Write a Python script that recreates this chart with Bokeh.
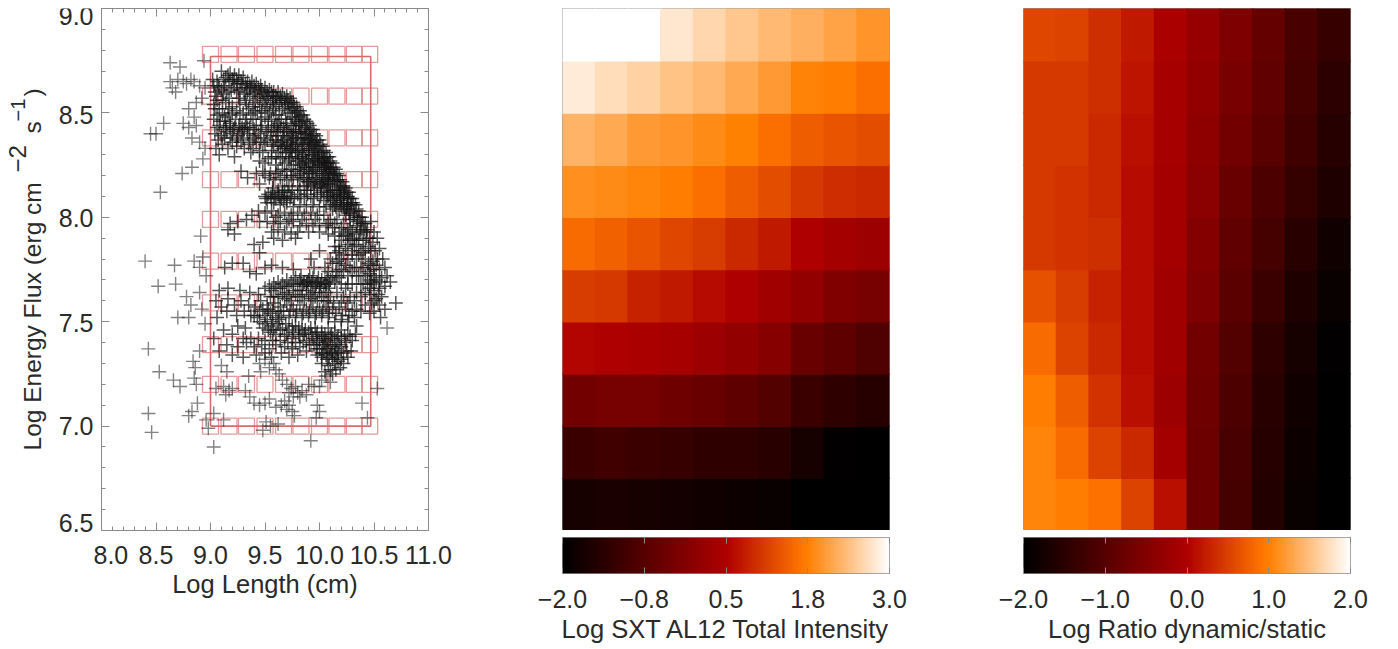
from bokeh.plotting import figure
from bokeh.layouts import row, column
from bokeh.embed import file_html
from bokeh.resources import INLINE
from bokeh.models import (ColumnDataSource, LinearColorMapper, LinearAxis, Label, FixedTicker,
                          Range1d)
import numpy as np

grid_x = [9.0, 9.17, 9.33, 9.5, 9.67, 9.83, 10.0, 10.16, 10.32, 10.46]
grid_y = [7.0, 7.2, 7.39, 7.59, 7.79, 7.99, 8.18, 8.38, 8.58, 8.78]
frame_x = [9.0, 9.0, 10.47, 10.47, 9.0]
frame_y = [7.0, 8.77, 8.77, 7.0, 7.0]

left_sparse = [(8.63,8.74),(8.72,8.72),(8.94,8.75),(8.65,8.62),(8.68,8.6),(8.63,8.65),(8.7,8.66),(8.75,8.65),
 (8.78,8.64),(8.82,8.66),(8.85,8.65),(8.9,8.63),(8.95,8.62),(8.8,8.52),(8.87,8.55),(8.92,8.57),(8.85,8.48),
 (8.45,8.40),(8.5,8.40),(8.57,8.45),(8.75,8.45),(8.8,8.43),(8.87,8.44),(8.83,8.38),(8.9,8.36),(8.95,8.33),
 (8.93,8.28),(8.74,8.21),(8.83,8.24),(8.54,8.12),(8.4,7.79),(8.52,7.67),(8.67,7.77),(8.68,7.68),(8.91,7.91),
 (8.85,7.79),(8.9,7.76),(8.93,7.81),(8.96,7.72),(8.9,7.64),(8.78,7.62),(8.43,7.37),(8.53,7.26),(8.66,7.22),
 (8.72,7.19),(8.43,7.06),(8.46,6.97),(8.8,7.05),(8.83,7.07),(8.88,7.11),(8.84,7.31),(8.86,7.28),(8.85,7.23),
 (8.87,7.2),(9.03,6.9),(9.92,6.93),(10.53,7.18),(10.39,7.11),(10.62,7.47),(8.7,7.52),(8.8,7.52),(8.82,7.58),
 (8.92,7.56),(8.95,7.49),(8.9,7.36),(8.96,7.03),(8.98,6.99),(9.48,6.98),(9.55,7.0),(9.51,7.02),(9.62,7.01),
 (9.12,7.03),(9.03,7.06),(10.44,7.04)]

arc_outer = [(9.02,8.66),(9.06,8.65),(9.1,8.7),(9.14,8.67),(9.18,8.69),(9.22,8.68),(9.26,8.68),(9.3,8.67),(9.34,8.65),
 (9.38,8.65),(9.42,8.64),(9.46,8.63),(9.5,8.62),(9.54,8.61),(9.58,8.6),(9.62,8.6),(9.66,8.59),(9.7,8.58),
 (9.73,8.57),(9.76,8.55),(9.79,8.53),(9.82,8.51),(9.85,8.49),(9.88,8.46),(9.91,8.44),(9.94,8.42),(9.97,8.39),
 (10.0,8.37),(10.03,8.34),(10.06,8.31),(10.09,8.29),(10.12,8.26),(10.15,8.23),(10.18,8.2),(10.21,8.17),
 (10.24,8.14),(10.27,8.12),(10.3,8.09),(10.33,8.06),(10.36,8.03),(10.39,8.0),(10.42,7.97),(10.44,7.94),
 (10.46,7.9)]
arc_mid = [(9.08,8.62),(9.13,8.63),(9.17,8.65),(9.21,8.65),(9.25,8.64),(9.29,8.64),(9.33,8.62),(9.37,8.62),(9.41,8.61),
 (9.45,8.6),(9.49,8.59),(9.53,8.58),(9.57,8.58),(9.61,8.57),(9.65,8.56),(9.69,8.55),(9.72,8.54),(9.75,8.52),
 (9.78,8.5),(9.81,8.48),(9.84,8.46),(9.87,8.43),(9.9,8.41),(9.93,8.39),(9.96,8.36),(9.99,8.34),(10.02,8.31),
 (10.05,8.28),(10.08,8.26),(10.11,8.23),(10.14,8.2),(10.17,8.17),(10.2,8.14),(10.23,8.11),(10.26,8.09),
 (10.29,8.06),(10.32,8.03),(10.35,8.0),(10.38,7.97),(10.41,7.94),(10.43,7.9),(10.45,7.86)]
arc_inner = [(9.05,8.58),(9.12,8.59),(9.19,8.61),(9.24,8.6),(9.31,8.59),(9.36,8.58),(9.43,8.57),(9.48,8.56),(9.55,8.55),
 (9.6,8.54),(9.66,8.52),(9.71,8.51),(9.75,8.48),(9.79,8.46),(9.82,8.44),(9.86,8.4),(9.89,8.37),(9.93,8.35),
 (9.96,8.32),(9.99,8.29),(10.03,8.27),(10.06,8.24),(10.09,8.21),(10.12,8.17),(10.16,8.13),(10.19,8.1),
 (10.22,8.07),(10.25,8.05),(10.28,8.02),(10.31,7.99),(10.34,7.96),(10.37,7.93),(10.4,7.89),(10.42,7.85)]
arc_extra = [(9.12,8.66),(9.16,8.68),(9.2,8.66),(9.24,8.66),(9.28,8.65),(9.32,8.64),(9.36,8.63),(9.4,8.63),(9.44,8.62),
 (9.47,8.61),(9.52,8.6),(9.56,8.6),(9.6,8.58),(9.64,8.58),(9.68,8.57),(9.71,8.56),(9.74,8.55),(9.77,8.53),(9.8,8.51),
 (9.83,8.49),(9.86,8.47),(9.89,8.45),(9.92,8.42),(9.95,8.4),(9.98,8.37),(10.01,8.35),(10.04,8.32),(10.07,8.29),
 (10.1,8.27),(10.13,8.24),(10.16,8.21),(10.19,8.18),(10.22,8.15),(10.25,8.12),(10.28,8.09),(10.31,8.07),(10.34,8.04),
 (10.37,8.0),(10.4,7.97),(10.43,7.93),(9.77,8.47),(9.81,8.45),(9.84,8.42),(9.88,8.4),(9.91,8.38),(9.94,8.36),
 (9.97,8.34),(10.0,8.31),(10.04,8.29),(10.07,8.26),(10.1,8.24),(10.13,8.21),(10.16,8.18),(10.19,8.15),(10.23,8.13),
 (10.26,8.1),(10.29,8.07),(10.32,8.01),(10.35,7.98),(10.38,7.94),(9.78,8.44),(9.83,8.41),(9.87,8.38),(9.92,8.36),
 (9.95,8.33),(9.98,8.31),(10.02,8.28),(10.05,8.25),(10.08,8.22),(10.12,8.19),(9.07,8.63),(9.04,8.6),(9.03,8.63),
 (9.1,8.61),(9.15,8.6),(9.22,8.62),(9.27,8.61),(9.34,8.6),(9.39,8.59),(9.46,8.58),(9.51,8.57),(9.58,8.56),(9.63,8.55),
 (9.68,8.53),(9.73,8.5),(9.06,8.56),(9.11,8.56),(9.17,8.57),(9.26,8.57),(9.32,8.56),(9.41,8.55),(9.5,8.54),(9.57,8.53)]
band_top = [(9.03,8.54),(9.08,8.52),(9.14,8.55),(9.2,8.53),(9.27,8.55),(9.33,8.54),(9.39,8.53),(9.45,8.53),(9.52,8.52),
 (9.58,8.51),(9.63,8.49),(9.69,8.47),(9.74,8.44),(9.03,8.47),(9.09,8.46),(9.16,8.49),(9.23,8.47),(9.3,8.5),
 (9.37,8.49),(9.43,8.5),(9.5,8.48),(9.56,8.47),(9.62,8.45),(9.67,8.43),(9.72,8.41),(9.78,8.41),(9.83,8.38),
 (9.06,8.43),(9.12,8.42),(9.18,8.45),(9.22,8.43),(9.27,8.42),(9.32,8.45),(9.36,8.43),(9.42,8.44),(9.47,8.44),
 (9.53,8.43),(9.58,8.42),(9.62,8.41),(9.66,8.39),(9.7,8.38),(9.75,8.37),(9.8,8.36),(9.86,8.34),(9.9,8.32),
 (9.04,8.4),(9.1,8.39),(9.15,8.41),(9.2,8.4),(9.25,8.39),(9.29,8.41),(9.34,8.4),(9.39,8.39),(9.44,8.4),(9.49,8.38),
 (9.55,8.39),(9.6,8.37),(9.65,8.36),(9.71,8.35),(9.76,8.34),(9.82,8.33),(9.88,8.31),(9.93,8.3),(9.96,8.27),
 (9.35,8.35),(9.2,8.36),(9.11,8.35),(9.05,8.33),(9.28,8.36),(9.42,8.36),(9.5,8.35),(9.58,8.34),(9.66,8.33),
 (9.73,8.32),(9.8,8.31),(9.85,8.3),(9.08,8.3),(9.22,8.29),(9.37,8.31),(9.45,8.32),(9.18,8.44),(9.14,8.46),(9.26,8.44),
 (9.31,8.42),(9.61,8.44),(9.68,8.41),(9.74,8.39),(9.79,8.38),(9.64,8.34),(9.7,8.33),(9.75,8.31),(9.81,8.29),(9.87,8.28)]
fill_top = [(9.04,8.52),(9.11,8.5),(9.17,8.52),(9.24,8.51),(9.35,8.52),(9.41,8.51),(9.47,8.51),(9.54,8.5),(9.6,8.49),
 (9.65,8.47),(9.7,8.45),(9.76,8.42),(9.81,8.41),(9.06,8.49),(9.13,8.48),(9.2,8.5),(9.27,8.49),(9.33,8.47),(9.39,8.47),
 (9.46,8.47),(9.53,8.46),(9.59,8.44),(9.64,8.43),(9.7,8.42),(9.76,8.4),(9.85,8.37),(9.08,8.44),(9.14,8.43),(9.21,8.42),
 (9.29,8.43),(9.34,8.43),(9.4,8.42),(9.46,8.42),(9.51,8.41),(9.56,8.41),(9.61,8.39),(9.67,8.37),(9.73,8.36),(9.78,8.35),
 (9.84,8.35),(9.9,8.35),(9.07,8.37),(9.13,8.38),(9.18,8.38),(9.24,8.37),(9.3,8.38),(9.36,8.37),(9.41,8.38),(9.46,8.36),
 (9.52,8.37),(9.57,8.36),(9.62,8.35),(9.68,8.34),(9.74,8.33),(9.78,8.32),(9.84,8.32),(9.91,8.33),(9.95,8.3),(9.98,8.28),
 (9.16,8.33),(9.24,8.34),(9.31,8.33),(9.39,8.33),(9.48,8.31),(9.56,8.32),(9.62,8.31),(9.69,8.31),(9.72,8.29),(9.78,8.29),
 (9.84,8.28),(9.9,8.29),(9.94,8.28),(10.0,8.27),(10.04,8.26),(10.1,8.22),(10.14,8.18),(10.18,8.13),(10.22,8.1),(10.26,8.06),
 (9.6,8.29),(9.66,8.29),(9.53,8.28),(9.74,8.28),(9.82,8.25),(9.88,8.24),(9.93,8.21),(10.0,8.22),(10.04,8.19),(10.08,8.18),
 (10.14,8.13),(10.18,8.11),(10.2,8.09),(9.68,8.2),(9.74,8.2),(9.8,8.2),(9.85,8.19),(9.9,8.17),(9.96,8.17),(10.02,8.16),
 (10.06,8.15),(10.1,8.11),(9.55,8.21),(9.6,8.21),(9.5,8.2),(9.68,8.13),(9.75,8.13),(9.82,8.13),(9.88,8.13),(9.95,8.13),
 (10.02,8.12),(10.08,8.1),(10.12,8.1),(9.57,8.14),(9.62,8.13)]
band_upper = [(9.45,8.27),(9.5,8.26),(9.56,8.29),(9.6,8.25),(9.64,8.28),(9.68,8.26),(9.72,8.27),(9.76,8.25),(9.8,8.27),
 (9.84,8.26),(9.88,8.27),(9.92,8.25),(9.96,8.24),(10.0,8.25),(10.04,8.24),(10.08,8.19),(9.62,8.22),(9.66,8.23),
 (9.7,8.22),(9.74,8.23),(9.78,8.22),(9.82,8.23),(9.86,8.22),(9.9,8.23),(9.94,8.22),(9.98,8.21),(10.02,8.2),
 (10.06,8.21),(10.1,8.16),(9.28,8.22),(9.34,8.19),(9.42,8.21),(9.48,8.22),(9.54,8.19),(9.58,8.18),(9.64,8.19),
 (9.7,8.18),(9.76,8.19),(9.82,8.18),(9.88,8.19),(9.94,8.18),(10.0,8.17),(10.05,8.17),(10.1,8.13),(10.16,8.1),
 (9.45,8.16),(9.66,8.15),(9.72,8.15),(9.8,8.15),(9.86,8.15),(9.92,8.15),(9.98,8.14),(10.04,8.14),(10.14,8.06),
 (9.86,8.24),(9.9,8.26),(9.94,8.24),(9.98,8.26),(10.02,8.23),(10.06,8.23),(9.83,8.21),(9.91,8.21),(9.97,8.19),
 (10.03,8.18),(10.08,8.16),(10.12,8.12),(9.89,8.17),(9.95,8.16),(10.01,8.15),(10.07,8.12)]
band_mid = [(9.5,8.1),(9.53,8.11),(9.56,8.09),(9.59,8.1),(9.62,8.11),(9.65,8.09),(9.68,8.1),(9.71,8.12),(9.74,8.1),
 (9.77,8.09),(9.8,8.11),(9.83,8.1),(9.86,8.09),(9.89,8.11),(9.92,8.1),(9.95,8.09),(9.98,8.11),(10.01,8.1),
 (10.04,8.08),(10.07,8.1),(10.1,8.09),(10.13,8.08),(10.16,8.07),(10.19,8.08),(10.22,8.06),(10.25,8.04),
 (9.52,8.07),(9.58,8.07),(9.64,8.06),(9.7,8.07),(9.76,8.05),(9.82,8.06),(9.88,8.05),(9.94,8.06),(10.0,8.05),
 (10.06,8.05),(10.12,8.04),(10.18,8.03),(10.24,8.01),(10.28,7.99),(9.51,8.09),(9.55,8.1),(9.6,8.09),(9.63,8.1),
 (9.67,8.08),(9.7,8.09),(9.73,8.09),(9.57,8.12),(9.66,8.12),(10.2,8.05),(10.15,8.05),(10.1,8.06),(10.27,8.02),(10.23,8.04)]
band_low_mid = [(9.38,8.01),(9.44,8.03),(9.5,8.02),(9.56,8.03),(9.62,8.01),(9.68,8.02),(9.74,8.01),(9.8,8.02),(9.86,8.01),
 (9.92,8.02),(9.98,8.01),(10.04,8.01),(10.1,7.99),(10.16,7.99),(10.22,7.97),(10.28,7.95),(10.34,7.92),
 (9.18,7.97),(9.25,7.98),(9.33,7.99),(9.45,7.98),(9.52,7.98),(9.58,7.97),(9.64,7.98),(9.7,7.97),(9.76,7.98),
 (9.82,7.96),(9.88,7.97),(9.94,7.96),(10.0,7.97),(10.06,7.96),(10.12,7.95),(10.18,7.93),(10.24,7.92),(10.3,7.9),
 (9.16,7.94),(9.22,7.92),(9.56,7.93),(9.62,7.94),(9.68,7.93),(9.74,7.92),(9.8,7.93),(9.9,7.93),(10.0,7.93),(10.08,7.92),
 (10.14,7.91),(10.2,7.89),(10.26,7.87),(10.32,7.86),(9.48,7.88),(9.58,7.9),(9.66,7.89),(9.78,7.9),(9.4,7.87),(9.45,7.83),
 (10.26,7.94),(10.2,7.95),(10.3,7.93),(10.36,7.89),(10.22,7.91),(10.28,7.89),(10.34,7.87),(10.4,7.83),(10.18,7.86),
 (10.24,7.85),(10.3,7.84),(10.36,7.82),(10.15,7.83),(10.2,7.8),(9.6,8.0),(9.72,7.99),(9.84,7.99),(9.96,7.99),(10.08,7.97),
 (10.14,7.97),(10.26,7.91),(10.32,7.89)]
right_fringe = [(10.47,7.98),(10.5,7.93),(10.53,7.9),(10.49,7.88),(10.55,7.85),(10.51,7.84),(10.47,7.84),(10.58,7.8),
 (10.53,7.8),(10.49,7.79),(10.45,7.78),(10.6,7.76),(10.55,7.75),(10.5,7.75),(10.46,7.73),(10.62,7.72),(10.57,7.71),
 (10.52,7.7),(10.48,7.69),(10.44,7.68),(10.65,7.69),(10.6,7.67),(10.55,7.66),(10.5,7.65),(10.46,7.63),(10.57,7.62),
 (10.52,7.61),(10.48,7.59),(10.55,7.58),(10.7,7.59),(10.6,7.56),(10.5,7.55),(10.56,7.52),(10.46,7.54),(10.42,7.58),
 (10.42,7.72),(10.42,7.8),(10.38,7.84),(10.38,7.76),(10.38,7.68),(10.34,7.8),(10.34,7.72),(10.3,7.82),(10.3,7.74),
 (10.26,7.8),(10.26,7.68),(10.22,7.82),(10.22,7.74),(10.18,7.84),(10.18,7.78),(10.14,7.86),(10.34,7.64),
 (10.4,7.76),(10.44,7.74),(10.4,7.68),(10.36,7.72),(10.32,7.76),(10.28,7.76),(10.24,7.77),(10.2,7.75),(10.16,7.72),
 (10.42,7.64),(10.38,7.62),(10.3,7.68),(10.26,7.72),(10.24,7.66),(10.2,7.68),(10.52,7.77),(10.47,7.77),(10.5,7.72),
 (10.55,7.69),(10.5,7.68),(10.46,7.66),(10.54,7.63),(10.5,7.6),(10.47,7.7)]
band_dense = [(9.5,7.66),(9.54,7.67),(9.58,7.68),(9.62,7.69),(9.66,7.68),(9.7,7.7),(9.74,7.69),(9.78,7.71),(9.82,7.7),
 (9.86,7.69),(9.9,7.7),(9.94,7.71),(9.98,7.69),(10.02,7.7),(10.06,7.68),(10.1,7.7),(9.56,7.65),(9.6,7.66),
 (9.64,7.66),(9.68,7.67),(9.72,7.67),(9.76,7.68),(9.8,7.68),(9.84,7.67),(9.88,7.68),(9.92,7.67),(9.96,7.67),
 (10.0,7.66),(10.04,7.67),(10.08,7.66),(9.7,7.64),(9.76,7.65),(9.82,7.65),(9.88,7.65),(9.94,7.64),(10.0,7.64),
 (10.06,7.64),(10.12,7.72),(10.15,7.74),(10.12,7.78),(10.08,7.74),(10.1,7.8),(10.16,7.79),(10.05,7.76),(10.14,7.69),
 (10.18,7.71),(9.55,7.62),(9.62,7.62),(9.68,7.61),(9.74,7.6),(9.8,7.62),(9.86,7.6),(9.92,7.61),(9.98,7.6),(10.04,7.6),
 (10.1,7.62),(10.16,7.64),(10.22,7.62),(10.28,7.62),(10.34,7.56),(9.3,7.78),(9.36,7.74),(9.42,7.73),(9.5,7.76),
 (9.56,7.77),(9.66,7.76),(9.76,7.75),(9.92,7.8),(10.0,7.84),(9.95,7.76),(9.2,7.78),(9.13,7.76),(9.85,7.68),(9.89,7.69),
 (9.93,7.69),(9.97,7.68),(10.01,7.68),(10.05,7.69),(10.09,7.68),(9.83,7.72),(9.91,7.72),(9.99,7.71),(10.07,7.71)]
band_lower = [(9.05,7.6),(9.1,7.57),(9.16,7.61),(9.22,7.58),(9.28,7.6),(9.35,7.58),(9.41,7.57),(9.46,7.6),(9.52,7.58),
 (9.58,7.59),(9.64,7.57),(9.7,7.58),(9.76,7.56),(9.82,7.58),(9.88,7.56),(9.94,7.57),(10.0,7.56),(10.06,7.57),
 (10.12,7.56),(10.18,7.57),(10.24,7.56),(10.3,7.55),(9.4,7.53),(9.45,7.55),(9.5,7.53),(9.55,7.54),(9.6,7.52),
 (9.65,7.53),(9.72,7.52),(9.78,7.53),(9.84,7.52),(9.9,7.53),(9.96,7.52),(10.02,7.53),(10.08,7.52),(10.14,7.5),
 (10.2,7.51),(10.26,7.5),(10.34,7.48),(9.45,7.5),(9.5,7.49),(9.56,7.48),(9.62,7.49),(9.66,7.47),(9.72,7.46),
 (9.78,7.48),(9.84,7.46),(9.9,7.45),(9.96,7.47),(10.02,7.45),(10.08,7.47),(10.14,7.45),(10.2,7.46),(10.26,7.44),
 (9.25,7.48),(9.32,7.47),(9.2,7.44),(9.12,7.46),(9.55,7.45),(9.6,7.44),(9.68,7.43),(9.75,7.42),(9.82,7.43),(9.88,7.41),
 (9.94,7.42),(10.0,7.41),(10.04,7.42),(10.08,7.4),(10.12,7.42),(10.16,7.41),(10.2,7.42),(10.24,7.4),(10.3,7.41),
 (9.95,7.39),(10.0,7.37),(10.05,7.39),(10.1,7.38),(10.15,7.37),(10.2,7.38),(10.25,7.36),(9.15,7.39),(9.25,7.38),
 (9.33,7.4),(9.4,7.38),(9.47,7.39),(9.54,7.37),(9.6,7.39),(9.68,7.38),(9.75,7.37),(9.82,7.38),(9.88,7.36),
 (9.98,7.34),(10.04,7.35),(10.09,7.33),(10.14,7.34),(10.2,7.32),(10.26,7.33),(10.02,7.3),(10.08,7.29),(10.14,7.3),
 (10.19,7.28),(10.05,7.26),(10.12,7.25),(9.08,7.36),(9.03,7.42),(9.06,7.52),(9.52,7.51),(9.57,7.5),(9.63,7.51),(9.69,7.49),
 (9.75,7.48),(9.81,7.47),(9.87,7.46),(9.93,7.44),(9.97,7.43),(10.02,7.43),(10.06,7.41),(10.1,7.43),(10.14,7.39),
 (10.18,7.39),(9.98,7.4),(10.03,7.39),(10.07,7.37),(10.12,7.36),(10.17,7.35),(10.22,7.35),(10.02,7.33),(10.07,7.32),
 (10.12,7.32),(10.17,7.31)]
fill_low = [(9.15,7.55),(9.24,7.53),(9.31,7.55),(9.37,7.53),(9.43,7.52),(9.48,7.56),(9.53,7.56),(9.57,7.55),(9.62,7.55),
 (9.67,7.55),(9.73,7.55),(9.79,7.55),(9.85,7.54),(9.91,7.55),(9.97,7.54),(10.03,7.55),(10.09,7.54),(10.15,7.54),(10.21,7.53),
 (10.27,7.53),(10.32,7.52),(9.48,7.47),(9.53,7.46),(9.58,7.46),(9.64,7.46),(9.7,7.44),(9.76,7.45),(9.81,7.44),(9.86,7.44),
 (9.92,7.47),(9.98,7.45),(10.05,7.44),(10.11,7.44),(10.17,7.43),(10.23,7.43),(10.28,7.43),(10.33,7.44),(9.3,7.42),(9.37,7.42),
 (9.44,7.42),(9.5,7.41),(9.57,7.41),(9.64,7.41),(9.71,7.4),(9.78,7.4),(9.85,7.4),(9.91,7.39),(9.97,7.37),(10.02,7.35),
 (10.06,7.34),(10.11,7.35),(10.16,7.33),(10.22,7.3),(10.29,7.36),(10.1,7.27),(10.15,7.27),(9.8,7.34),(9.72,7.33),(9.65,7.35),
 (9.56,7.33),(9.5,7.35),(9.42,7.34),(9.3,7.33),(9.2,7.34),(9.58,7.62),(9.44,7.63),(9.36,7.64),(9.27,7.65),(9.16,7.66),
 (9.08,7.65),(9.66,7.63),(9.72,7.62),(9.78,7.63),(9.84,7.62),(9.9,7.63),(9.96,7.62),(10.02,7.62),(10.08,7.6),(10.13,7.59),
 (10.2,7.6),(10.26,7.59),(10.32,7.6),(10.38,7.55)]
tail_low = [(9.45,7.3),(9.5,7.32),(9.54,7.28),(9.58,7.3),(9.6,7.27),(9.63,7.25),(9.66,7.22),(9.7,7.2),(9.74,7.18),(9.78,7.19),
 (9.8,7.16),(9.84,7.17),(9.88,7.15),(9.72,7.16),(9.76,7.14),(9.82,7.14),(9.68,7.12),(9.72,7.1),(9.75,7.07),(9.77,7.05),
 (9.12,7.19),(9.17,7.17),(9.2,7.18),(9.14,7.15),(9.1,7.29),(9.15,7.26),(9.35,7.24),(9.46,7.26),(9.32,7.17),
 (9.36,7.14),(9.4,7.11),(9.45,7.1),(9.5,7.11),(9.54,7.13),(9.6,7.09),(9.65,7.1),(9.7,7.08),(9.98,7.1),(10.0,7.07),
 (9.97,7.04),(10.02,7.22),(10.0,7.19),(10.06,7.24),(10.1,7.21),(9.9,7.2),(9.95,7.19),(9.05,7.18)]
sparse_bands = [left_sparse, tail_low]
dense_bands = [arc_outer, arc_mid, arc_inner, arc_extra, band_top, fill_top, band_upper, band_mid, band_low_mid,
               right_fringe, band_dense, band_lower, fill_low]

log_intensity = [
 [-1.65,-1.6,-1.65,-1.7,-1.75,-1.8,-1.85,-2,-2,-2],
 [-1.15,-1.05,-1.15,-1.2,-1.3,-1.3,-1.4,-1.65,-1.95,-2],
 [-.35,-.3,-.3,-.4,-.5,-.65,-.8,-1.15,-1.3,-1.45],
 [.55,.5,.45,.4,.25,.1,-.05,-.5,-.65,-.85],
 [1.1,1.05,.85,.75,.6,.5,.3,.1,-.15,-.3],
 [1.55,1.45,1.33,1.2,1.1,.9,.75,.5,.35,.25],
 [1.9,1.85,1.8,1.73,1.58,1.4,1.25,1.05,.93,.9],
 [2.25,2.15,2.0,1.95,1.85,1.75,1.58,1.4,1.33,1.25],
 [2.8,2.65,2.55,2.4,2.3,2.15,2.0,1.78,1.73,1.58],
 [3,3,3,2.75,2.6,2.45,2.3,2.2,2.1,1.95],
]
log_ratio = [
 [1.04,.98,.88,.52,.12,-.76,-1.2,-1.6,-1.88,-2],
 [1.04,.84,.52,.32,-.12,-.76,-1.16,-1.56,-1.84,-2],
 [.98,.72,.4,.12,-.2,-.72,-1.12,-1.52,-1.8,-2],
 [.84,.52,.32,.08,-.16,-.68,-1.04,-1.44,-1.72,-1.96],
 [.64,.48,.28,.08,-.16,-.56,-.96,-1.32,-1.64,-1.88],
 [.44,.4,.36,.08,-.12,-.48,-.88,-1.2,-1.52,-1.8],
 [.44,.4,.32,.08,-.12,-.4,-.8,-1.12,-1.4,-1.64],
 [.44,.44,.32,.12,-.08,-.36,-.68,-.96,-1.24,-1.56],
 [.44,.44,.36,.16,-.08,-.32,-.6,-.88,-1.2,-1.48],
 [.56,.52,.36,.2,-.04,-.28,-.56,-.84,-1.16,-1.36],
]
x_ticks = [8.0, 8.5, 9.0, 9.5, 10.0, 10.5, 11.0]
y_ticks = [6.5, 7.0, 7.5, 8.0, 8.5, 9.0]
y_label_nudge = [8, 0, -1, -1, -2, -7]
cb1_ticks = [-2, -0.75, 0.5, 1.75, 3]
cb1_labels = ["−2.0", "−0.8", "0.5", "1.8", "3.0"]
cb2_ticks = [-2, -1, 0, 1, 2]
cb2_labels = ["−2.0", "−1.0", "0.0", "1.0", "2.0"]

FONT = "Liberation Sans"
INK = "#2a2a2a"
AX = "#8a8a8a"
FH = 522
GUT_H = 580
palette = []
for i in range(256):
    t = i / 255
    palette.append("#%02x%02x%02x" % (int(255 * min(1, t / 0.73)), int(255 * max(0, 2 * t - 1)), int(255 * max(0, 4 * t - 3))))


def style_axis(ax, labels=True, ticks=()):
    ax.axis_line_color = AX
    ax.major_tick_line_color = AX
    ax.minor_tick_line_color = AX
    ax.major_tick_in = 8
    ax.major_tick_out = 0
    ax.minor_tick_in = 4
    ax.minor_tick_out = 0
    ax.major_label_text_font = FONT
    ax.major_label_text_color = INK
    if labels:
        ax.major_label_text_font_size = "25px"
        ax.major_label_standoff = 15
    else:
        ax.major_label_text_font_size = "1px"
        ax.major_label_standoff = 0
        ax.major_label_overrides = {t: "" for t in ticks}


# gutter figure: holds the y tick labels and the rotated y title inside its own frame
GUT = figure(width=93, height=GUT_H, frame_width=93, frame_height=GUT_H, x_range=Range1d(0, 93), y_range=Range1d(0, GUT_H),
             output_backend="svg", toolbar_location=None, min_border_left=0, min_border_right=0,
             min_border_top=0, min_border_bottom=0, x_axis_location=None, y_axis_location=None)
GUT.grid.visible = False
GUT.outline_line_color = None
BASE = GUT_H - 530 + 8  # screen y of the main frame's bottom inside the gutter
for tick, nudge in zip(y_ticks, y_label_nudge):
    GUT.add_layout(Label(x=93, y=BASE + (tick - 6.5) / 2.5 * FH + nudge, x_units="screen", y_units="screen",
                         text=f"{tick:.1f}", text_align="right", text_baseline="middle", text_font=FONT,
                         text_font_size="25px", text_color=INK))
for text, xs, ys, size in (("Log Energy Flux (erg cm", 32, 80, "24.5px"), ("−2", 17, 358, "24px"),
                           ("s", 32, 397, "24.5px"), ("−1", 17, 409, "20px"), (")", 32, 434, "24.5px")):
    GUT.add_layout(Label(x=xs, y=BASE + ys, x_units="screen", y_units="screen", text=text, angle=90,
                         angle_units="deg", text_align="left", text_baseline="middle", text_font=FONT,
                         text_font_size=size, text_color=INK))

LEFT = figure(width=429, height=638, frame_width=327, frame_height=FH, x_range=Range1d(8, 11), y_range=Range1d(6.5, 9),
              output_backend="svg", toolbar_location=None, min_border_left=8, min_border_right=94,
              min_border_top=8, min_border_bottom=108, x_axis_location=None, y_axis_location=None)
LEFT.grid.visible = False
LEFT.outline_line_color = AX
for place, ticks in (("below", x_ticks), ("above", x_ticks), ("left", y_ticks), ("right", y_ticks)):
    ax = LinearAxis(ticker=FixedTicker(ticks=ticks, minor_ticks=[round(v * 0.1 + 6.0, 1) for v in range(51)]))
    style_axis(ax, labels=place == "below", ticks=ticks)
    if place == "below":
        ax.major_label_overrides = {t: f"{t:.1f}" for t in ticks}
        ax.axis_label = "Log Length (cm)"
        ax.axis_label_text_font = FONT
        ax.axis_label_text_font_size = "25.5px"
        ax.axis_label_text_font_style = "normal"
        ax.axis_label_text_color = INK
        ax.axis_label_standoff = 3
    LEFT.add_layout(ax, place)

gx = [x for x in grid_x for _ in grid_y]
gy = [y for _ in grid_x for y in grid_y]
LEFT.scatter(gx, gy, marker="square", size=16, fill_color=None, line_color="#e49a9a", line_width=1.3)
LEFT.line(frame_x, frame_y, line_color="#d86a6a", line_width=1.6)
LEFT.scatter([p[0] for b in sparse_bands for p in b], [p[1] for b in sparse_bands for p in b], marker="cross",
             size=14, line_color="#1c1c1c", line_alpha=0.55, line_width=1.4)
LEFT.scatter([p[0] for b in dense_bands for p in b], [p[1] for b in dense_bands for p in b], marker="cross",
             size=14, line_color="#141414", line_alpha=0.72, line_width=1.5)


def panel(values, low, high, ticks, labels, title, width, right):
    mapper = LinearColorMapper(palette=palette, low=low, high=high)
    rows = len(values)
    cols = len(values[0])
    src = ColumnDataSource(dict(x=[c + 0.5 for r in range(rows) for c in range(cols)],
                                y=[r + 0.5 for r in range(rows) for c in range(cols)],
                                v=[values[r][c] for r in range(rows) for c in range(cols)]))
    heat = figure(width=width, height=FH + 8, frame_width=327, frame_height=FH, x_range=Range1d(0, cols), y_range=Range1d(0, rows),
                  output_backend="svg", toolbar_location=None, min_border_left=40, min_border_right=right,
                  min_border_top=8, min_border_bottom=0, x_axis_location=None, y_axis_location=None)
    heat.grid.visible = False
    heat.outline_line_color = "#9a9a9a"
    col = {"field": "v", "transform": mapper}
    heat.rect("x", "y", 1.03, 1.03, source=src, fill_color=col, line_color=None)

    bar = figure(width=width, height=108, frame_width=327, frame_height=36, x_range=Range1d(low, high), y_range=Range1d(0, 1),
                 output_backend="svg", toolbar_location=None, min_border_left=40, min_border_right=right,
                 min_border_top=7, min_border_bottom=65, x_axis_location=None, y_axis_location=None)
    bar.grid.visible = False
    bar.outline_line_color = AX
    bar.image(image=[np.linspace(low, high, 256).reshape(1, 256)], x=low, y=0, dw=high - low, dh=1, color_mapper=mapper)
    for place in ("below", "above"):
        ax = LinearAxis(ticker=FixedTicker(ticks=ticks))
        style_axis(ax, labels=place == "below", ticks=ticks)
        ax.major_tick_in = 6
        ax.axis_line_color = None
        if place == "below":
            ax.major_label_standoff = 16
            ax.major_label_overrides = {t: s for t, s in zip(ticks, labels)}
            ax.axis_label = title
            ax.axis_label_text_font = FONT
            ax.axis_label_text_font_size = "25.5px"
            ax.axis_label_text_font_style = "normal"
            ax.axis_label_text_color = INK
            ax.axis_label_standoff = 4
        bar.add_layout(ax, place)
    return column(heat, bar, spacing=0)


mid = panel(log_intensity, -2, 3, cb1_ticks, cb1_labels, "Log SXT AL12 Total Intensity", 461, 94)
right = panel(log_ratio, -2, 2, cb2_ticks, cb2_labels, "Log Ratio dynamic/static", 387, 20)
page = row(GUT, LEFT, mid, right, spacing=0)
open("out.html", "w").write(file_html(page, INLINE))
